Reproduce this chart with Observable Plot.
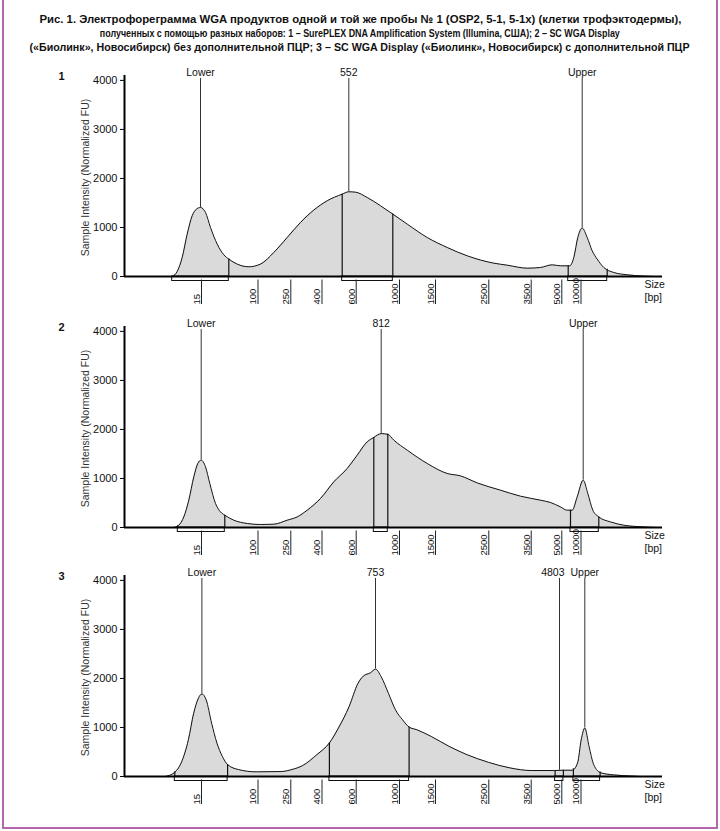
<!DOCTYPE html>
<html><head><meta charset="utf-8">
<script src="https://cdn.jsdelivr.net/npm/d3@7"></script>
<script src="https://cdn.jsdelivr.net/npm/@observablehq/plot@0.6"></script>
<style>
html,body{margin:0;padding:0;background:#fff;}
#page{position:relative;width:720px;height:831px;overflow:hidden;background:#fff;font-family:"Liberation Sans",Arial,Helvetica,sans-serif;}
#frame{position:absolute;left:2px;top:-4px;width:716px;height:833px;box-sizing:border-box;border:2px solid #b466aa;pointer-events:none;}
#title{position:absolute;left:0;top:12px;width:720px;text-align:center;font-weight:bold;font-size:11.5px;line-height:14px;color:#111;}
#title div{white-space:nowrap;}
#title span{display:inline-block;transform-origin:center;}
.panel{position:absolute;left:0;}
</style></head><body>
<div id="page"><div id="title"></div><div id="frame"></div></div>
<script>
// ---------- text ----------
const titleLines = [
  "Рис. 1. Электрофореграмма WGA продуктов одной и той же пробы № 1 (OSP2, 5-1, 5-1х) (клетки трофэктодермы),",
  "полученных с помощью разных наборов: 1 – SurePLEX DNA Amplification System (Illumina, США); 2 – SC WGA Display",
  "(«Биолинк», Новосибирск) без дополнительной ПЦР; 3 – SC WGA Display («Биолинк», Новосибирск) с дополнительной ПЦР"
];
const yTitle = "Sample Intensity (Normalized FU)";
const xTitle = ["Size", "[bp]"];

// ---------- axes (migration position units, FU) ----------
const yTicks = [0, 1000, 2000, 3000, 4000];
const sizeLabels = ["15", "100", "250", "400", "600", "1000", "1500", "2500", "3500", "5000", "10000"];
const sizePos = [77, 133.5, 166.3, 197.5, 231.7, 275, 311, 364.3, 406.7, 437.3, 456.5];

// ---------- panel 1 ----------
const p1Pos = [47.7, 52.7, 57.7, 62.7, 67.7, 72, 76, 81, 86, 92.7, 99.3, 104.3, 112.7, 124.3, 136, 149.3, 162.7, 176, 189.3, 202.7, 217.7, 224.3, 231, 242.7, 256, 268.3, 282.7, 302.7, 322.7, 342.7, 369.3, 382.7, 402.7, 416, 427.7, 436, 445.3, 449.3, 453.3, 457.7, 462.7, 467.7, 472.7, 479.3, 489.3, 502.7, 519.3, 530];
const p1Fu  = [0, 102, 388, 865, 1239, 1375, 1408, 1306, 1000, 661, 443, 355, 253, 198, 253, 490, 796, 1102, 1355, 1545, 1680, 1728, 1720, 1612, 1443, 1273, 1069, 796, 592, 422, 272, 231, 170, 184, 238, 218, 218, 388, 796, 987, 796, 524, 355, 184, 82, 35, 8, 0];
const p1PeakLabels = ["Lower", "552", "Upper"];
const p1PeakPos = [76, 224.3, 457.7];
const p1RegionStart = [47.7, 217.7, 443.7];
const p1RegionEnd   = [104.3, 268.3, 482.7];

// ---------- panel 2 ----------
const p2Pos = [49.3, 54.3, 59.3, 64.3, 69.3, 73.3, 76.7, 81, 85.3, 91, 96, 100.3, 109.3, 122.7, 136, 149.3, 162.7, 172.7, 182.7, 196, 209.3, 222.7, 232.7, 242.7, 249.3, 256.7, 263.3, 269.3, 282.7, 302.7, 322.7, 336, 352.7, 376, 396, 416, 426, 436, 442.7, 447.7, 452.7, 458.7, 463.3, 468.3, 474.3, 486, 499.3, 519.3, 532];
const p2Fu  = [0, 47, 216, 557, 1033, 1306, 1373, 1237, 898, 490, 318, 251, 149, 82, 61, 67, 149, 216, 353, 592, 931, 1204, 1476, 1747, 1837, 1915, 1900, 1782, 1578, 1306, 1102, 1053, 910, 761, 639, 557, 510, 420, 353, 353, 625, 965, 694, 353, 216, 114, 47, 12, 0];
const p2PeakLabels = ["Lower", "812", "Upper"];
const p2PeakPos = [76.7, 256.7, 458.7];
const p2RegionStart = [53.3, 249.3, 446];
const p2RegionEnd   = [100.3, 263.3, 474.3];

// ---------- panel 3 ----------
const p3Pos = [40.6, 49.6, 56.7, 63.9, 69.2, 73.9, 77.4, 81.7, 87.1, 92.4, 97.8, 103.1, 113.9, 131.7, 156.7, 167.4, 178.1, 192.4, 204.9, 213.9, 224.6, 233.5, 238.9, 246, 251, 256.7, 263.9, 271, 278.1, 284.6, 292.4, 306.7, 324.6, 342.4, 363.9, 385.3, 406.7, 429.9, 438.8, 447.8, 453.1, 456.7, 460.3, 464.6, 469.2, 476.4, 488.9, 506.7, 516];
const p3Fu  = [0, 75, 278, 750, 1292, 1596, 1684, 1562, 1089, 684, 412, 243, 142, 95, 101, 142, 223, 446, 684, 988, 1426, 1900, 2049, 2116, 2190, 2035, 1698, 1359, 1156, 1008, 953, 817, 615, 446, 290, 176, 122, 122, 128, 128, 278, 750, 988, 608, 243, 75, 34, 10, 0];
const p3PeakLabels = ["Lower", "753", "4803", "Upper"];
const p3PeakPos = [77.4, 251, 435, 460.3];
const p3RegionStart = [50.3, 204.9, 430.6, 448.9];
const p3RegionEnd   = [103.1, 284.6, 438.9, 475.6];

// ---------- title (each line fitted to its width in the figure) ----------
const titleWidths = [642, 520, 660];
const titleEl = document.getElementById("title");
titleLines.forEach((t, i) => {
  const d = document.createElement("div");
  const s = document.createElement("span");
  s.textContent = t;
  d.appendChild(s);
  titleEl.appendChild(d);
  const w = s.getBoundingClientRect().width;
  if (w > 0) s.style.transform = `scaleX(${titleWidths[i] / w})`;
});

// ---------- panels ----------
function interp(pos, fu, u) {
  if (u <= pos[0]) return fu[0];
  for (let i = 1; i < pos.length; i++) {
    if (u <= pos[i]) {
      const t = (u - pos[i - 1]) / (pos[i] - pos[i - 1]);
      return fu[i - 1] + t * (fu[i] - fu[i - 1]);
    }
  }
  return fu[fu.length - 1];
}

const FONT = "'Liberation Sans', Arial, Helvetica, sans-serif";

function drawPanel(num, pos, fu, peakLabels, peakPos, regStart, regEnd, top) {
  const trace = pos.map((u, i) => ({u, fu: fu[i]}));
  const peaks = peakLabels.map((label, i) => ({label, u: peakPos[i], fu: interp(pos, fu, peakPos[i])}));
  const crowded = peaks.map((p, i) => i < peaks.length - 1 && peaks[i + 1].u - p.u < 30);
  const peaksNormal = peaks.filter((p, i) => !crowded[i]);
  const peaksLeft = peaks.filter((p, i) => crowded[i]);
  const regions = regStart.map((a, i) => ({a, b: regEnd[i]}));
  const edges = regions.flatMap(r => [r.a, r.b]).map(u => ({u, fu: interp(pos, fu, u)}));
  const ticks = sizeLabels.map((label, i) => ({label, u: sizePos[i]}));

  const svg = Plot.plot({
    width: 720, height: 250,
    marginLeft: 124, marginRight: 58, marginTop: 15, marginBottom: 34,
    x: {domain: [0, 538], axis: null},
    y: {domain: [0, 4100], axis: null},
    style: {fontFamily: FONT, fontSize: "10.5px", color: "#111", background: "transparent", overflow: "visible"},
    marks: [
      Plot.areaY(trace, {x: "u", y: "fu", fill: "#dadada", curve: "monotone-x"}),
      Plot.lineY(trace, {x: "u", y: "fu", stroke: "#111", strokeWidth: 1, curve: "monotone-x"}),
      Plot.ruleX(edges, {x: "u", y1: 0, y2: "fu", stroke: "#111", strokeWidth: 1.2}),
      Plot.rect(regions, {x1: "a", x2: "b", y1: 0, y2: 0, insetTop: 0, insetBottom: -4.5, fill: "none", stroke: "#111", strokeWidth: 1}),
      Plot.ruleX(peaks, {x: "u", y1: "fu", y2: 4040, stroke: "#333", strokeWidth: 1}),
      Plot.text(peaksNormal, {x: "u", y: 4100, text: "label", textAnchor: "middle", lineAnchor: "bottom", dy: 0, fontSize: 10.5, fill: "#111"}),
      Plot.text(peaksLeft, {x: "u", y: 4100, text: "label", textAnchor: "end", lineAnchor: "bottom", dx: 5, dy: 0, fontSize: 10.5, fill: "#111"}),
      // x axis
      Plot.ruleY([0], {stroke: "#000", strokeWidth: 2}),
      Plot.ruleX(ticks, {x: "u", y1: 0, y2: 0, insetTop: 3.5, insetBottom: -28, stroke: "#222", strokeWidth: 1}),
      Plot.text(ticks, {x: "u", y: 0, text: "label", rotate: -90, textAnchor: "start", lineAnchor: "middle", dx: -4.7, dy: 28, fontSize: 9.5, fill: "#111"}),
      Plot.text([xTitle[0]], {frameAnchor: "bottom-right", textAnchor: "start", lineAnchor: "middle", dx: -18, dy: 8, fontSize: 10.5, fill: "#111"}),
      Plot.text([xTitle[1]], {frameAnchor: "bottom-right", textAnchor: "start", lineAnchor: "middle", dx: -18, dy: 21, fontSize: 10.5, fill: "#111"}),
      // y axis
      Plot.ruleX([0], {y1: 0, y2: 4100, stroke: "#000", strokeWidth: 2}),
      Plot.ruleY(yTicks, {y: d => d, x1: 0, x2: 0, insetLeft: -4, stroke: "#000", strokeWidth: 1}),
      Plot.text(yTicks, {x: 0, y: d => d, text: d => String(d), textAnchor: "end", lineAnchor: "middle", dx: -7, fontSize: 11, fill: "#111"}),
      Plot.text([yTitle], {frameAnchor: "left", rotate: -90, textAnchor: "middle", lineAnchor: "middle", dx: -39, dy: 1.5, fontSize: 10.5, fill: "#333"}),
      Plot.text([String(num)], {frameAnchor: "top-left", textAnchor: "middle", lineAnchor: "middle", dx: -63, dy: 1, fontSize: 11, fontWeight: "bold", fill: "#111"})
    ]
  });
  svg.classList.add("panel");
  svg.style.top = top + "px";
  document.getElementById("page").insertBefore(svg, document.getElementById("frame"));
}

drawPanel(1, p1Pos, p1Fu, p1PeakLabels, p1PeakPos, p1RegionStart, p1RegionEnd, 60);
drawPanel(2, p2Pos, p2Fu, p2PeakLabels, p2PeakPos, p2RegionStart, p2RegionEnd, 311);
drawPanel(3, p3Pos, p3Fu, p3PeakLabels, p3PeakPos, p3RegionStart, p3RegionEnd, 560);
</script>
</body></html>
